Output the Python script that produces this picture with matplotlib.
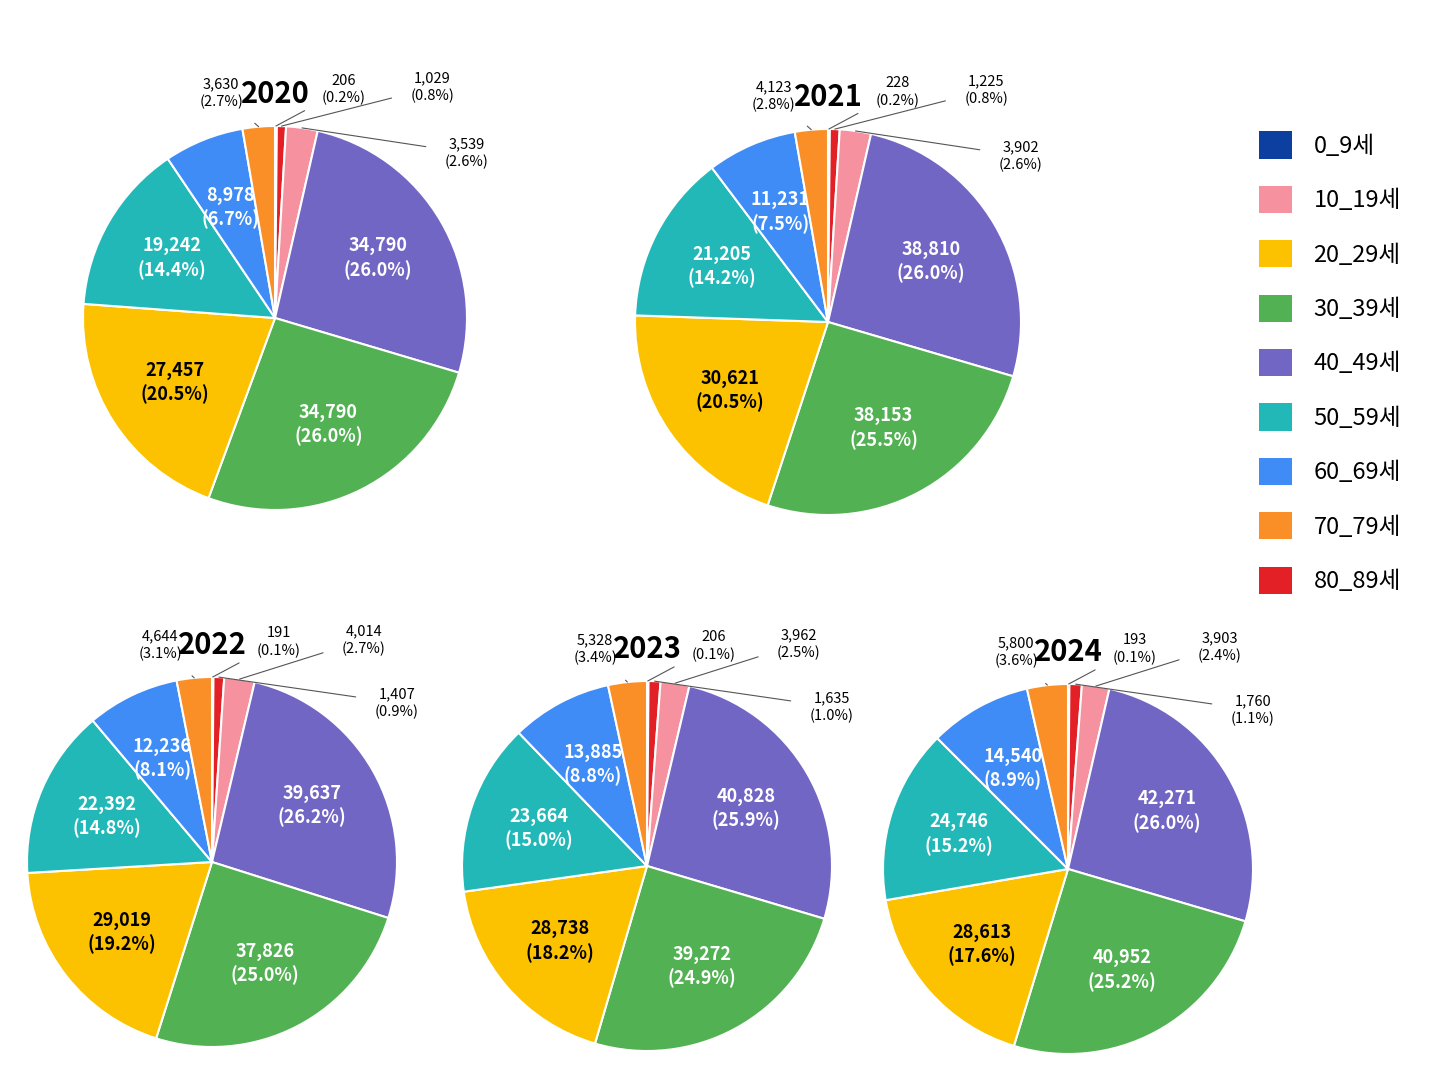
import numpy as np
import matplotlib
matplotlib.use("Agg")
import matplotlib.pyplot as plt
from matplotlib.patches import Patch

plt.rcParams['font.family'] = ['Noto Sans CJK KR', 'DejaVu Sans']

# ---------------------------------------------------------------------------
# Data (slice order clockwise from 12 o'clock)
# ---------------------------------------------------------------------------
years = ["2020", "2021", "2022", "2023", "2024"]
slice_groups = ["0_9세", "80_89세", "10_19세", "40_49세", "30_39세",
                "20_29세", "50_59세", "60_69세", "70_79세"]
values = {
    "2020": [206, 1029, 3539, 34790, 34790, 27457, 19242, 8978, 3630],
    "2021": [228, 1225, 3902, 38810, 38153, 30621, 21205, 11231, 4123],
    "2022": [191, 1407, 4014, 39637, 37826, 29019, 22392, 12236, 4644],
    "2023": [206, 1635, 3962, 40828, 39272, 28738, 23664, 13885, 5328],
    "2024": [193, 1760, 3903, 42271, 40952, 28613, 24746, 14540, 5800],
}
legend_order = ["0_9세", "10_19세", "20_29세", "30_39세", "40_49세",
                "50_59세", "60_69세", "70_79세", "80_89세"]

colors = {
    "0_9세": "#0d3fa0", "10_19세": "#f6919f", "20_29세": "#fcc200",
    "30_39세": "#52b152", "40_49세": "#7266c4", "50_59세": "#23b8b8",
    "60_69세": "#3f8cf7", "70_79세": "#f98f26", "80_89세": "#e32026",
}

# pie centre (px) and radius (px) in a 1448x1086 canvas
W, H = 1448, 1086
layout = {
    "2020": (275, 318, 192),
    "2021": (828, 322, 193),
    "2022": (212, 862, 185),
    "2023": (647, 866, 185),
    "2024": (1068, 869, 185),
}
# outside label slots (axes units)
slots = [(-0.28, 1.17), (0.36, 1.19), (0.82, 1.20), (1.0, 0.86)]

fig = plt.figure(figsize=(W / 100, H / 100), dpi=100)

for year in years:
    cx, cy, r = layout[year]
    ax = fig.add_axes([(cx - r) / W, (H - cy - r) / H, 2 * r / W, 2 * r / H])
    vals = np.array(values[year], dtype=float)
    cols = [colors[g] for g in slice_groups]
    wedges, _ = ax.pie(vals, colors=cols, startangle=90, counterclock=False,
                       radius=1, wedgeprops=dict(edgecolor="white", linewidth=1.5))
    ax.set_xlim(-1, 1)
    ax.set_ylim(-1, 1)
    ax.set_aspect("equal")
    ax.axis("off")
    total = vals.sum()
    pct = vals / total * 100

    # which slice goes to which outside slot
    if year in ("2020", "2021"):
        outside = {8: 0, 0: 1, 1: 2, 2: 3}
    else:
        outside = {8: 0, 0: 1, 2: 2, 1: 3}

    for i, w in enumerate(wedges):
        ang = np.deg2rad((w.theta1 + w.theta2) / 2)
        txt = f"{int(vals[i]):,}\n({pct[i]:.1f}%)"
        if i in outside:
            lx, ly = slots[outside[i]]
            ex, ey = np.cos(ang), np.sin(ang)
            ax.annotate(txt, xy=(ex, ey), xytext=(lx, ly), ha="center", va="center",
                        fontsize=10.5, linespacing=1.3, annotation_clip=False,
                        arrowprops=dict(arrowstyle="-", color="#555555", lw=0.8,
                                        shrinkA=12, shrinkB=0))
        else:
            rr = 0.62
            c = "black" if slice_groups[i] == "20_29세" else "white"
            ax.text(rr * np.cos(ang), rr * np.sin(ang), txt, ha="center", va="center",
                    fontsize=13, color=c, fontweight="bold", linespacing=1.3)

    fig.text(cx / W, 1 - (cy - r - 82) / H if False else 1 - (cy - r - 10 - 30) / H * 0 - (cy - r - 32) / H,
             year, ha="center", va="center", fontsize=21, fontweight="bold")

handles = [Patch(facecolor=colors[g], edgecolor="none") for g in legend_order]
fig.legend(handles, legend_order, loc="upper left", bbox_to_anchor=(1238 / W, 1 - 110 / H),
           frameon=False, fontsize=17, handlelength=1.4, handleheight=1.4,
           labelspacing=1.15, handletextpad=0.9)

fig.savefig("out.png", dpi=100, facecolor="white")
